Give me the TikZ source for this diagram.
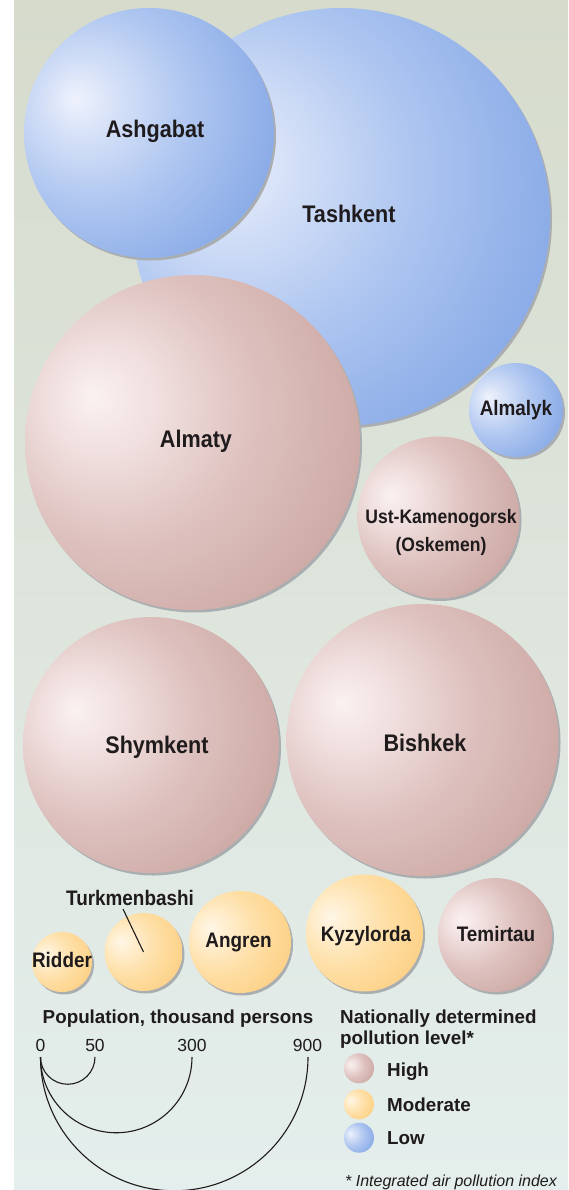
\documentclass[tikz,border=0pt]{standalone}
\usepackage{fontspec}
\setmainfont{Liberation Sans}
\newfontfamily\labfont[FakeStretch=0.9]{Liberation Sans}
\usetikzlibrary{calc}

\definecolor{txt}{HTML}{1F1B1C}
\definecolor{bgtop}{HTML}{D6DBCC}
\definecolor{bgbot}{HTML}{E4EEEC}
\definecolor{shadowc}{HTML}{ABAEB1}
\definecolor{ro0}{HTML}{FBF1F1}
\definecolor{ro1}{HTML}{F0E0DF}
\definecolor{ro2}{HTML}{DEC2BF}
\definecolor{ro3}{HTML}{CDA9A5}
\definecolor{ro4}{HTML}{BB918C}
\definecolor{ro5}{HTML}{A87672}
\definecolor{bl0}{HTML}{EEF2FC}
\definecolor{bl1}{HTML}{D3DFF7}
\definecolor{bl2}{HTML}{ADC5F0}
\definecolor{bl3}{HTML}{8AABE7}
\definecolor{bl4}{HTML}{739DE2}
\definecolor{bl5}{HTML}{6393DD}
\definecolor{ye0}{HTML}{FFF6E6}
\definecolor{ye1}{HTML}{FFEDCC}
\definecolor{ye2}{HTML}{FEDFA6}
\definecolor{ye3}{HTML}{FDD187}
\definecolor{ye4}{HTML}{FDC871}
\definecolor{ye5}{HTML}{FBBE5C}

\pgfdeclareradialshading{roseball}{\pgfpoint{-15bp}{7bp}}{color(0bp)=(ro0); color(8bp)=(ro1); color(20bp)=(ro2); color(35bp)=(ro3); color(50bp)=(ro4); color(67bp)=(ro5); color(80bp)=(ro5)}
\pgfdeclareradialshading{blueball}{\pgfpoint{-15bp}{7bp}}{color(0bp)=(bl0); color(8bp)=(bl1); color(20bp)=(bl2); color(35bp)=(bl3); color(50bp)=(bl4); color(67bp)=(bl5); color(80bp)=(bl5)}
\pgfdeclareradialshading{yellowball}{\pgfpoint{-15bp}{7bp}}{color(0bp)=(ye0); color(8bp)=(ye1); color(20bp)=(ye2); color(35bp)=(ye3); color(50bp)=(ye4); color(67bp)=(ye5); color(80bp)=(ye5)}

\newcommand\citybubble[5]{%
  \fill[shadowc] (#2+2,#3+2.5) circle[radius=#4];
  \node[ball, minimum size={2*#4pt}, shading=#5] (#1) at (#2,#3) {};
}

\begin{document}
\begin{tikzpicture}[x=1pt,y=-1pt,
  ball/.style={circle, inner sep=0pt, outer sep=0pt, draw=none, shade},
  biglab/.style={font=\labfont\bfseries\fontsize{24}{28}\selectfont, text=txt, inner sep=0pt, anchor=base},
  midlab/.style={font=\labfont\bfseries\fontsize{21}{25}\selectfont, text=txt, inner sep=0pt, anchor=base},
  smalllab/.style={font=\labfont\bfseries\fontsize{19.5}{23}\selectfont, text=txt, inner sep=0pt, anchor=base},
  legtitle/.style={font=\bfseries\fontsize{18.8}{22}\selectfont, text=txt, inner sep=0pt, anchor=base},
  legitem/.style={font=\bfseries\fontsize{18.8}{22}\selectfont, text=txt, inner sep=0pt, anchor=base west},
  numlab/.style={font=\fontsize{17.5}{21}\selectfont, text=txt, inner sep=0pt, anchor=base},
  scaleline/.style={draw=txt, line width=1.1pt},
  leader/.style={draw=txt, line width=1.1pt}
]
\useasboundingbox (0,0) rectangle (568,1190);
\fill[white] (0,0) rectangle (568,1190);
\shade[top color=bgtop, bottom color=bgbot] (14,0) rectangle (568,1190);

% top group
\citybubble{tashkent}{341}{217}{209}{blueball}
\citybubble{ashgabat}{149}{133}{125}{blueball}
\citybubble{almaty}{192.5}{442.5}{167.5}{roseball}
\citybubble{almalyk}{516}{410}{47}{blueball}
\citybubble{ustk}{438.5}{517.5}{81}{roseball}
\citybubble{shymkent}{151}{745}{128}{roseball}
\citybubble{bishkek}{422.5}{740}{136}{roseball}
% bottom row
\citybubble{ridder}{62}{962}{30}{yellowball}
\citybubble{turkmen}{143.5}{952}{39}{yellowball}
\citybubble{angren}{240}{942}{51}{yellowball}
\citybubble{kyzylorda}{364.5}{933}{58.5}{yellowball}
\citybubble{temirtau}{495}{935}{57}{roseball}

% labels
\node[biglab] (ashgabatL) at (155,138) {Ashgabat};
\node[biglab] (tashkentL) at (349,222.7) {Tashkent};
\node[biglab] (almatyL) at (196,447.7) {Almaty};
\node[midlab] (almalykL) at (516,415.7) {Almalyk};
\node[smalllab] (ustkL1) at (441,523) {Ust-Kamenogorsk};
\node[smalllab] (ustkL2) at (441,551.5) {(Oskemen)};
\node[biglab] (shymkentL) at (157,753) {Shymkent};
\node[biglab] (bishkekL) at (425,751.7) {Bishkek};
\node[midlab] (ridderL) at (62,967.3) {Ridder};
\node[midlab] (turkmenL) at (130,905.7) {Turkmenbashi};
\node[midlab] (angrenL) at (238.5,947.3) {Angren};
\node[midlab] (kyzylordaL) at (366,941) {Kyzylorda};
\node[midlab] (temirtauL) at (496,941.7) {Temirtau};
\coordinate (turkLeadStart) at (123,909);
\draw[leader] (turkLeadStart) -- (turkmen.center);

% size legend
\node[legtitle] (popTitle) at (178,1023.3) {Population, thousand persons};
\node[numlab] (n0) at (40.5,1051.7) {0};
\node[numlab] (n50) at (95,1051.7) {50};
\node[numlab] (n300) at (192,1051.7) {300};
\node[numlab] (n900) at (307.5,1051.7) {900};
\coordinate (a0) at (40.5,1057);
\coordinate (a50) at (95,1057);
\coordinate (a300) at (192,1057);
\coordinate (a900) at (308,1057);
\draw[scaleline] (a0) arc[start angle=180, end angle=0, radius=27.25];
\draw[scaleline] (a0) arc[start angle=180, end angle=0, radius=75.75];
\draw[scaleline] (a0) arc[start angle=180, end angle=0, radius=133.75];

% colour legend
\node[legtitle, anchor=base west] (natTitle1) at (340,1023) {Nationally determined};
\node[legtitle, anchor=base west] (natTitle2) at (340,1044) {pollution level*};
\node[ball, minimum size=30pt, shading=roseball] (lgHigh) at (359,1068.3) {};
\node[ball, minimum size=30pt, shading=yellowball] (lgMod) at (359,1104.3) {};
\node[ball, minimum size=30pt, shading=blueball] (lgLow) at (359,1137.7) {};
\node[legitem] (lgHighL) at (387,1076) {High};
\node[legitem] (lgModL) at (387,1111.7) {Moderate};
\node[legitem] (lgLowL) at (387,1144.3) {Low};
\node[font=\itshape\fontsize{16}{19}\selectfont, text=txt, inner sep=0pt, anchor=base west] (footnote) at (345,1186.7) {* Integrated air pollution index};
\end{tikzpicture}
\end{document}
